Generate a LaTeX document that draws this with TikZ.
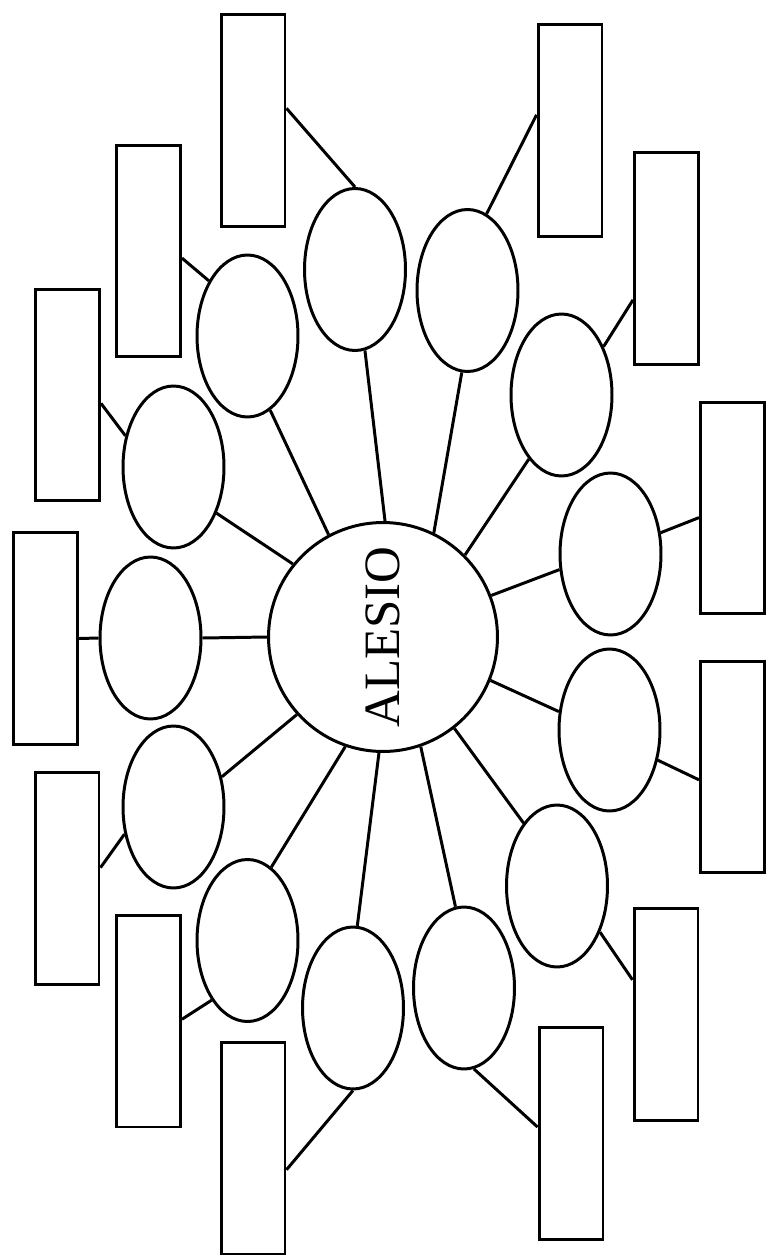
\documentclass[tikz,border=0pt]{standalone}
\usepackage{fontspec}
\setmainfont{Liberation Serif}
\usetikzlibrary{shapes.geometric}

\begin{document}
\begin{tikzpicture}[x=0.02cm,y=-0.02cm,line width=1.7pt,
  hub/.style={circle,draw,minimum size=4.58cm,inner sep=0pt},
  idea/.style={ellipse,draw,minimum width=2.02cm,minimum height=3.24cm,inner sep=0pt},
  slot/.style={rectangle,draw,minimum width=1.28cm,minimum height=4.24cm,inner sep=0pt}]
\useasboundingbox (0,0) rectangle (767,1257);
\node[hub] (hub) at (383,637) {\rotatebox{90}{\fontsize{29}{30}\selectfont ALESIO}};
\node[idea] (e1) at (355,269.5) {};
\node[idea] (e2) at (467.5,290.5) {};
\node[idea] (e3) at (561.5,395) {};
\node[idea] (e4) at (610.5,554) {};
\node[idea] (e5) at (609.5,730) {};
\node[idea] (e6) at (557,886) {};
\node[idea] (e7) at (464,988) {};
\node[idea] (e8) at (353,1008) {};
\node[idea] (e9) at (247.5,940.5) {};
\node[idea] (e10) at (173.5,807) {};
\node[idea] (e11) at (150.5,638) {};
\node[idea] (e12) at (173.5,467) {};
\node[idea] (e13) at (247.5,336) {};
\node[slot] (r1) at (253,120.5) {};
\node[slot] (r2) at (570,130.5) {};
\node[slot] (r3) at (666.5,258.5) {};
\node[slot] (r4) at (732.5,508) {};
\node[slot] (r5) at (732.5,767) {};
\node[slot] (r6) at (666,1014.5) {};
\node[slot] (r7) at (571,1133.5) {};
\node[slot] (r8) at (253,1148) {};
\node[slot] (r9) at (148.5,1021) {};
\node[slot] (r10) at (67,878.5) {};
\node[slot] (r11) at (45.5,638.5) {};
\node[slot] (r12) at (67.5,395) {};
\node[slot] (r13) at (148.5,251) {};
\draw (hub.89) -- (e1.277);
\draw (hub.64.5) -- (e2.266);
\draw (hub.45) -- (e3.243.4);
\draw (hub.21.5) -- (e4.197);
\draw (hub.338.9) -- (e5.160.7);
\draw (hub.308.5) -- (e6.118.4);
\draw (hub.289) -- (e7.96.9);
\draw (hub.268.5) -- (e8.87.2);
\draw (hub.251.1) -- (e9.72);
\draw (hub.222.3) -- (e10.32.3);
\draw (hub.west) -- (e11.east);
\draw (hub.141.6) -- (e12.313.4);
\draw (hub.118.8) -- (e13.287.2);
\draw (e1.north) -- (r1.20);
\draw (e2.76.6) -- (r2.155.5);
\draw (e3.49.6) -- (r3.231);
\draw (e4.23.1) -- (r4.196.6);
\draw (e5.328.8) -- (r5.201.2);
\draw (e6.313.1) -- (r6.134.6);
\draw (e7.277.6) -- (r7.169.2);
\draw (e8.south) -- (r8.327.1);
\draw (e9.239) -- (r9.3.4);
\draw (e10.209.5) -- (r10.18.7);
\draw (e11.west) -- (r11.east);
\draw (e12.147.1) -- (r12.346.6);
\draw (e13.125) -- (r13.348);
\end{tikzpicture}
\end{document}
